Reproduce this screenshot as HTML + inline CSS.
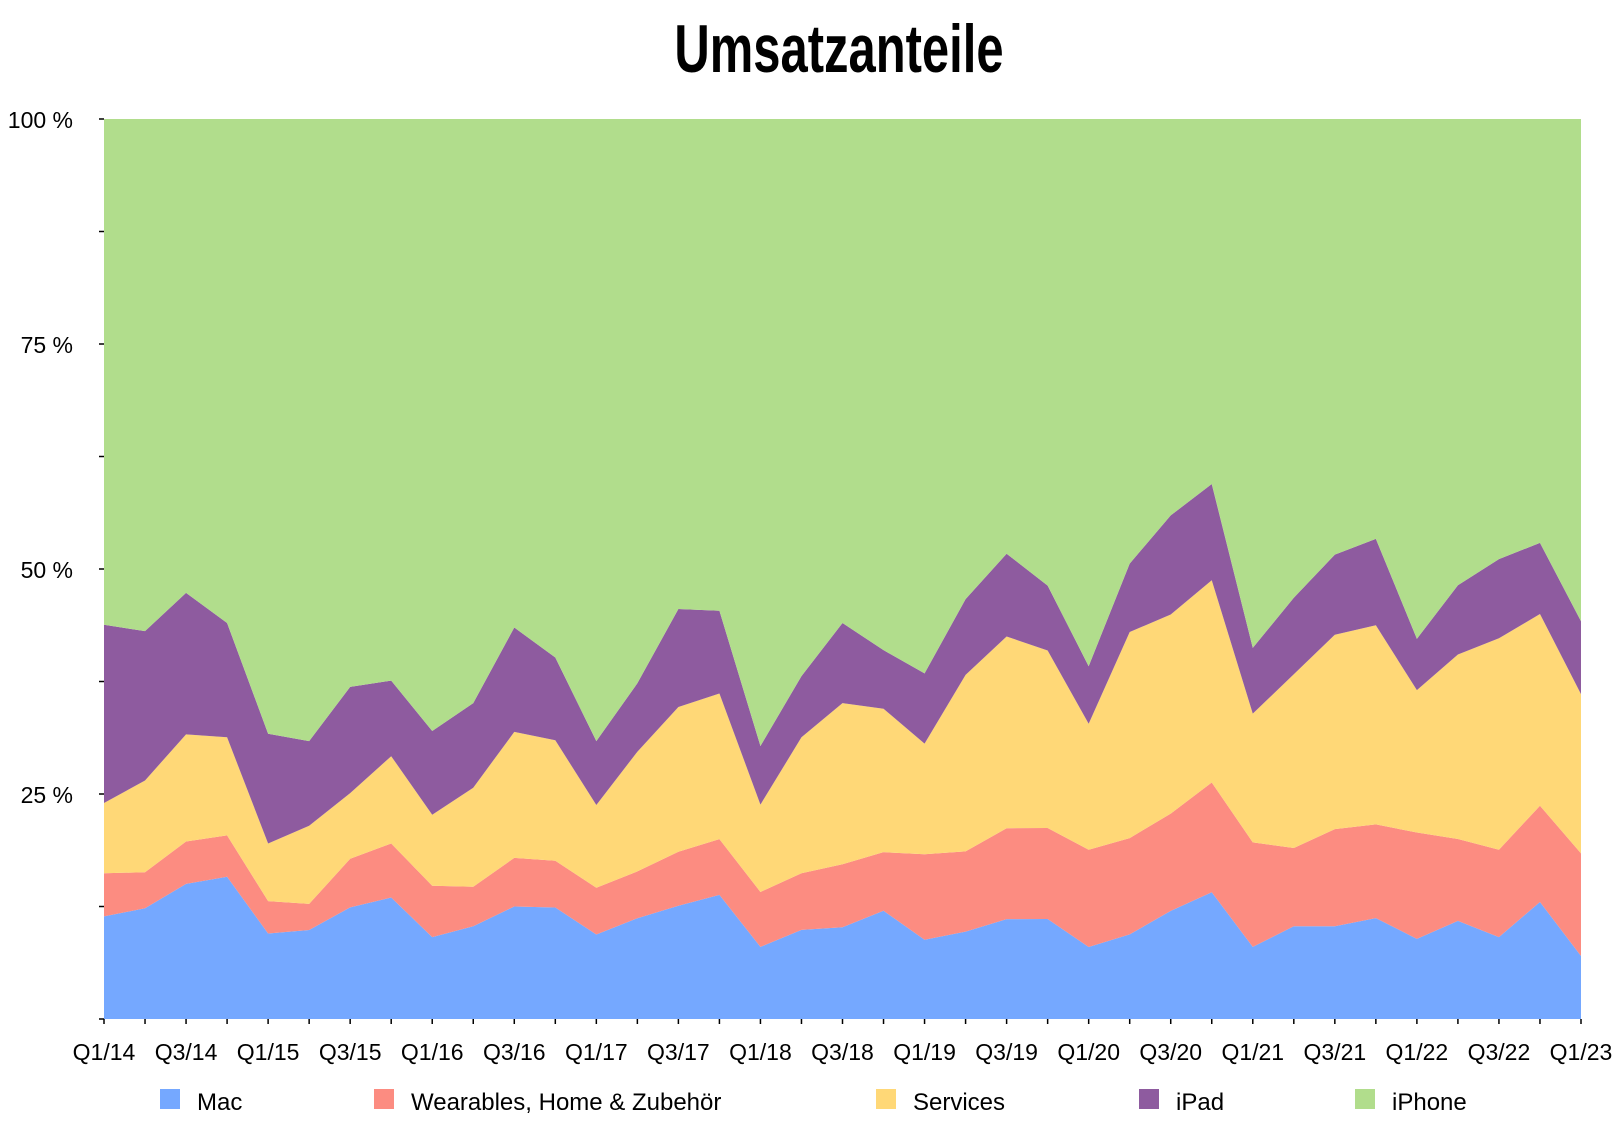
<!DOCTYPE html>
<html><head><meta charset="utf-8"><style>
body{margin:0;background:#fff;width:1618px;height:1116px;overflow:hidden;font-family:"Liberation Sans",sans-serif}
</style></head><body>
<svg id="c" width="1618" height="1116" xmlns="http://www.w3.org/2000/svg">
<text x="839" y="72" text-anchor="middle" font-family="'Liberation Sans Narrow','Liberation Sans',sans-serif" font-weight="bold" font-size="68" transform="translate(839 0) scale(0.72 1) translate(-839 0)">Umsatzanteile</text>
<g id="areas"></g><g id="axes"></g><g id="legend"></g>
</svg>
<script>
const quarters=["Q1/14","Q2/14","Q3/14","Q4/14","Q1/15","Q2/15","Q3/15","Q4/15","Q1/16","Q2/16","Q3/16","Q4/16","Q1/17","Q2/17","Q3/17","Q4/17","Q1/18","Q2/18","Q3/18","Q4/18","Q1/19","Q2/19","Q3/19","Q4/19","Q1/20","Q2/20","Q3/20","Q4/20","Q1/21","Q2/21","Q3/21","Q4/21","Q1/22","Q2/22","Q3/22","Q4/22","Q1/23"];
const mac=[11.4,12.3,15.0,15.8,9.5,9.9,12.4,13.5,9.1,10.3,12.5,12.4,9.4,11.2,12.6,13.8,8.0,9.9,10.2,12.0,8.8,9.7,11.1,11.1,8.0,9.4,12.0,14.1,8.0,10.3,10.3,11.2,8.9,10.9,9.1,13.0,7.0];
const wearables=[4.8,4.0,4.7,4.6,3.6,2.9,5.4,6.0,5.7,4.4,5.4,5.2,5.2,5.2,6.0,6.2,6.1,6.3,7.0,6.5,9.5,8.9,10.1,10.1,10.8,10.7,10.8,12.2,11.6,8.7,10.8,10.4,11.8,9.1,9.7,10.7,11.4];
const services=[7.8,10.2,11.9,10.9,6.4,8.7,7.3,9.7,7.9,11.0,14.0,13.4,9.2,13.3,16.1,16.2,9.7,15.1,17.9,15.9,12.3,19.6,21.3,19.7,14.0,22.9,22.1,22.5,14.3,19.3,21.6,22.1,15.8,20.5,23.5,21.3,17.7];
const ipad=[19.8,16.6,15.7,12.7,12.2,9.4,11.8,8.4,9.3,9.4,11.6,9.2,7.1,7.6,10.9,9.2,6.5,6.8,8.9,6.5,7.8,8.4,9.2,7.2,6.4,7.6,11.0,10.7,7.3,8.5,8.9,9.6,5.7,7.7,8.8,7.9,8.1];
const iphone=[56.2,56.9,52.6,56.0,68.3,69.2,63.1,62.4,68.0,64.9,56.5,59.9,69.2,62.7,54.5,54.7,69.6,61.9,56.0,58.9,61.6,53.3,48.3,51.8,60.8,49.4,44.0,40.6,58.7,53.2,48.4,46.6,57.7,51.8,48.9,47.1,55.8];
const seriesNames=["Mac","Wearables, Home & Zubehör","Services","iPad","iPhone"];
const yTicks=["0 %","25 %","50 %","75 %","100 %"];
const NS="http://www.w3.org/2000/svg";
const X0=104,X1=1581,Y0=1019,Y1=119;
const xs=i=>X0+(X1-X0)*i/(quarters.length-1);
const ys=p=>Y0-(Y0-Y1)*p/100;
const colors=["#75a8ff","#fc8c81","#ffd877","#8e5b9f","#b1dd8c"];
const keys=["mac","wearables","services","ipad","iphone"];
const series=[mac,wearables,services,ipad,iphone];
const areas=document.getElementById('areas');
const totals=quarters.map((q,i)=>series.reduce((s,a)=>s+a[i],0));
let base=quarters.map(()=>0);
series.forEach((arr,k)=>{
  const top=arr.map((v,i)=>base[i]+v/totals[i]*100);
  let d="M"+quarters.map((q,i)=>xs(i)+","+ys(top[i])).join(" L");
  for(let i=quarters.length-1;i>=0;i--) d+=" L"+xs(i)+","+ys(base[i]);
  d+="Z";
  const p=document.createElementNS(NS,'path');
  p.setAttribute('d',d);p.setAttribute('fill',colors[k]);
  
  
  areas.appendChild(p);
  base=top;
});
const ax=document.getElementById('axes');
function el(tag,attrs,txt){const e=document.createElementNS(NS,tag);for(const a in attrs)e.setAttribute(a,attrs[a]);if(txt!=null)e.textContent=txt;ax.appendChild(e);return e;}
for(let j=0;j<=8;j++){
  const p=j*12.5;
  const t=el('line',{x1:99,y1:ys(p),x2:X0,y2:ys(p),stroke:'#000','stroke-width':1.5});
  
  
}
yTicks.forEach((lab,j)=>{
  if(j===0)return;
  const t=el('text',{x:73,y:ys(j*25)+9,'text-anchor':'end','font-size':23},lab);
  
  
});
quarters.forEach((q,i)=>{
  const t=el('line',{x1:xs(i),y1:Y0,x2:xs(i),y2:Y0+5,stroke:'#000','stroke-width':1.5});
  
  
  if(i%2===0){
    const l=el('text',{x:xs(i),y:1060,'text-anchor':'middle','font-size':23},q);
    
    
  }
});
const lg=document.getElementById('legend');
const lx=[160,374,876,1139,1355];
seriesNames.forEach((n,k)=>{
  const g=document.createElementNS(NS,'g');
  
  
  const r=document.createElementNS(NS,'rect');
  r.setAttribute('x',lx[k]);r.setAttribute('y',1089);r.setAttribute('width',20);r.setAttribute('height',20);r.setAttribute('fill',colors[k]);
  
  
  const t=document.createElementNS(NS,'text');
  t.setAttribute('x',lx[k]+37);t.setAttribute('y',1110);t.setAttribute('font-size',24);t.textContent=n;
  
  
  g.appendChild(r);g.appendChild(t);lg.appendChild(g);
});
</script>
</body></html>
